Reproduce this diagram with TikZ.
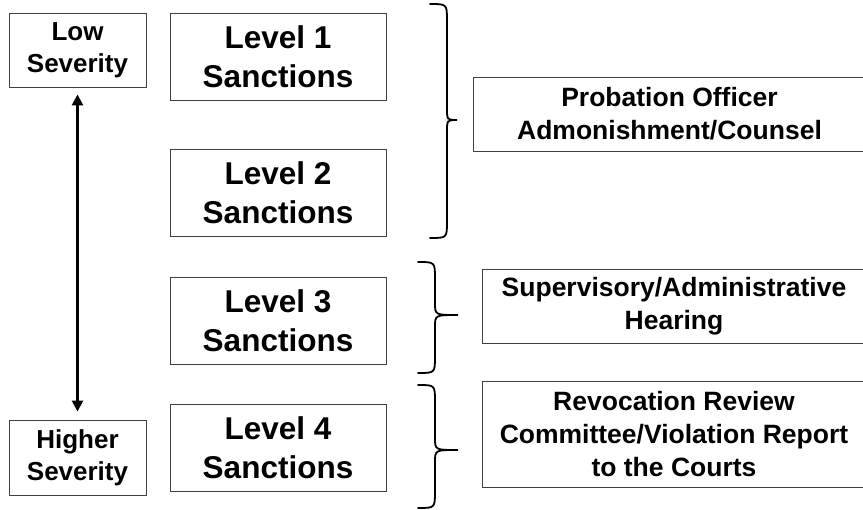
\documentclass[tikz,border=0pt]{standalone}
\usepackage{fontspec}
\setmainfont{Liberation Sans}
\usetikzlibrary{arrows.meta}

\tikzset{
	sanction/.style = {draw=black!75, line width=0.9pt, rectangle, align=center,
		minimum width=216pt, minimum height=87pt, font=\fontsize{31.5}{39}\selectfont\bfseries},
	severity/.style = {draw=black!75, line width=0.9pt, rectangle, align=center,
		minimum width=137pt, minimum height=74pt, font=\fontsize{26}{32}\selectfont\bfseries},
	response/.style = {draw=black!75, line width=0.9pt, rectangle, align=center,
		minimum height=74pt, font=\fontsize{26.5}{33}\selectfont\bfseries}
}

\begin{document}
\begin{tikzpicture}[x=1pt, y=-1pt]
	% picture frame, same size as the reference
	\useasboundingbox (0,0) rectangle (863,510);
	
	% severity scale on the left
	\node[severity] (low) at (77.5,50) {Low\\Severity};
	\node[severity, minimum height=75pt] (high) at (77.5,457.5) {Higher\\Severity};
	\draw[{Triangle[length=11pt,width=11pt]}-{Triangle[length=11pt,width=11pt]}, line width=2.6pt,
		shorten <=7pt, shorten >=8pt] (low) -- (high);
	
	% the four levels of sanctions
	\node[sanction] (lvl1) at (278,56.5) {Level 1\\Sanctions};
	\node[sanction] (lvl2) at (278,193) {Level 2\\Sanctions};
	\node[sanction] (lvl3) at (278,320.5) {Level 3\\Sanctions};
	\node[sanction] (lvl4) at (278,447.5) {Level 4\\Sanctions};
	
	% responses, cut off by the right edge
	\node[response, minimum width=393pt] (officer) at (669.5,114) {Probation Officer\\Admonishment/Counsel};
	\node[response, minimum width=384pt] (hearing) at (674,306) {Supervisory/Administrative\\Hearing};
	\node[response, minimum width=384pt, minimum height=106pt] (review) at (674,434)
		{Revocation Review\\Committee/Violation Report\\to the Courts};
	
	% braces grouping the levels
	\foreach \ya/\yb/\ym/\xe/\xv/\xt in {4/238/120/430/447/457, 262/373/315/418/435/458, 385/508/450/418/435/458}
	{
		\draw[line width=1.8pt, line cap=round]
			(\xe,\ya) .. controls (\xv,\ya) .. (\xv,\ya+17) -- (\xv,\ym-12)
			.. controls (\xv,\ym) .. (\xt,\ym) .. controls (\xv,\ym) .. (\xv,\ym+12)
			-- (\xv,\yb-17) .. controls (\xv,\yb) .. (\xe,\yb);
	}
	
\end{tikzpicture}
\end{document}
